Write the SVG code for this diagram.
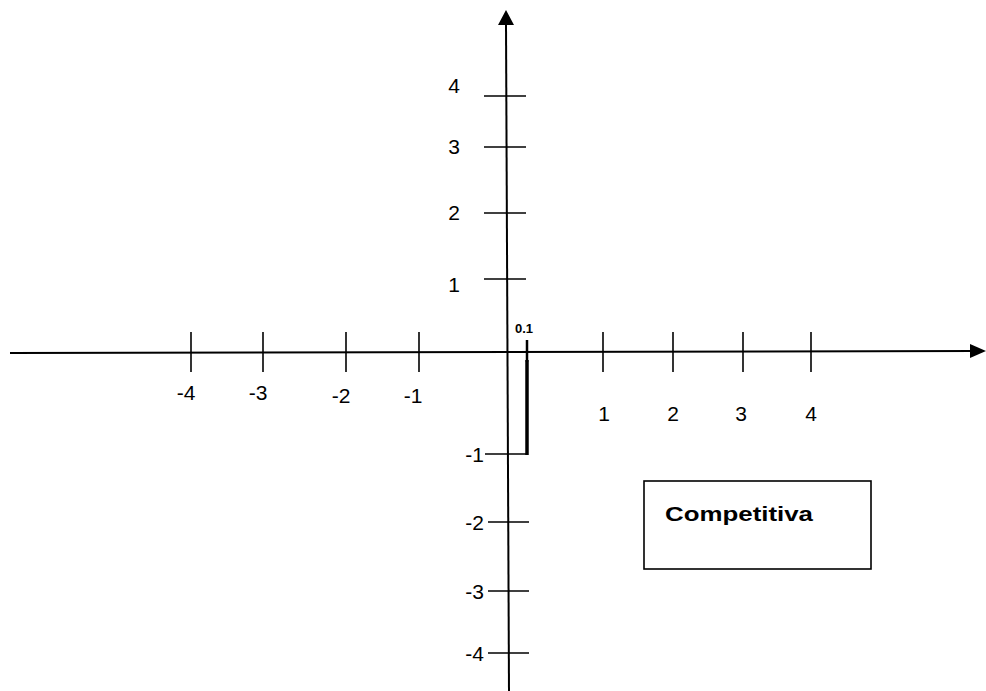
<svg xmlns="http://www.w3.org/2000/svg" width="986" height="691" viewBox="0 0 986 691">
<style>
.ax{stroke:#000;stroke-width:2;fill:none}
.tk{stroke:#000;stroke-width:1.6;fill:none}
.lb{font-family:"Liberation Sans",Arial,sans-serif;font-size:21px;fill:#000}
.xl{text-anchor:middle}
.yl{text-anchor:end}
</style>
<rect width="986" height="691" fill="#fff"/>
<g id="connectors">
<line class="ax" x1="10" y1="353" x2="976" y2="351" />
<path d="M970,344 L986,351 L970,358 Z" fill="#000"/>
<line class="ax" x1="509" y1="691" x2="506" y2="24" />
<path d="M498,25 L506,10 L514,25 Z" fill="#000"/>
</g>
<g id="x-ticks">
<line class="tk" x1="191" y1="332" x2="191" y2="372"/>
<line class="tk" x1="263" y1="332" x2="263" y2="372"/>
<line class="tk" x1="346" y1="332" x2="346" y2="372"/>
<line class="tk" x1="419" y1="332" x2="419" y2="372"/>
<line class="tk" x1="603" y1="332" x2="603" y2="372"/>
<line class="tk" x1="673" y1="332" x2="673" y2="372"/>
<line class="tk" x1="743" y1="332" x2="743" y2="372"/>
<line class="tk" x1="811" y1="332" x2="811" y2="372"/>
</g>
<g id="y-ticks">
<line class="tk" x1="484" y1="96" x2="526" y2="96"/>
<line class="tk" x1="484" y1="147" x2="526" y2="147"/>
<line class="tk" x1="484" y1="213" x2="526" y2="213"/>
<line class="tk" x1="484" y1="279" x2="526" y2="279"/>
<line class="tk" x1="485" y1="454" x2="527" y2="454"/>
<line class="tk" x1="488" y1="522" x2="529" y2="522"/>
<line class="tk" x1="488" y1="591" x2="529" y2="591"/>
<line class="tk" x1="488" y1="653" x2="529" y2="653"/>
</g>
<g id="x-labels">
<text class="lb xl" x="186" y="400">-4</text>
<text class="lb xl" x="258" y="400">-3</text>
<text class="lb xl" x="341" y="403">-2</text>
<text class="lb xl" x="413" y="403">-1</text>
<text class="lb xl" x="604" y="421">1</text>
<text class="lb xl" x="673" y="421">2</text>
<text class="lb xl" x="741" y="421">3</text>
<text class="lb xl" x="811" y="421">4</text>
</g>
<g id="y-labels">
<text class="lb yl" x="460" y="93">4</text>
<text class="lb yl" x="460" y="154">3</text>
<text class="lb yl" x="460" y="220">2</text>
<text class="lb yl" x="460" y="292">1</text>
<text class="lb yl" x="484" y="462">-1</text>
<text class="lb yl" x="484" y="530">-2</text>
<text class="lb yl" x="484" y="599">-3</text>
<text class="lb yl" x="484" y="661">-4</text>
</g>
<g id="marker01">
<line x1="527" y1="340" x2="527" y2="362" stroke="#000" stroke-width="2.5"/>
<line x1="527" y1="360" x2="527" y2="455" stroke="#000" stroke-width="3.5"/>
<text x="524" y="333" text-anchor="middle" font-family="Liberation Sans,Arial,sans-serif" font-size="13" font-weight="bold">0.1</text>
</g>
<g id="competitiva">
<rect x="644" y="481" width="227" height="88" fill="#fff" stroke="#000" stroke-width="1.6"/>
<text x="665" y="521" font-family="Liberation Sans,Arial,sans-serif" font-size="21" font-weight="bold" textLength="148" lengthAdjust="spacingAndGlyphs">Competitiva</text>
</g>
</svg>
